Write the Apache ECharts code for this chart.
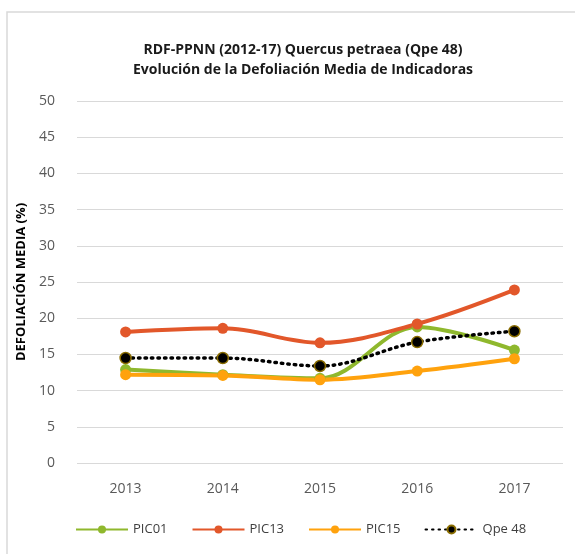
<!DOCTYPE html>
<html>
<head>
<meta charset="utf-8">
<script src="https://cdn.jsdelivr.net/npm/echarts@6/dist/echarts.min.js"></script>
<style>
html, body { margin: 0; padding: 0; background: #fff; }
#chart { width: 575px; height: 554px; }
</style>
</head>
<body>
<div id="chart"></div>
<script>
var years = ['2013', '2014', '2015', '2016', '2017'];
var pic01 = [12.9, 12.2, 11.7, 18.8, 15.6];
var pic13 = [18.1, 18.6, 16.6, 19.2, 23.9];
var pic15 = [12.2, 12.1, 11.5, 12.7, 14.4];
var qpe48 = [14.5, 14.5, 13.4, 16.7, 18.2];

var myChart = echarts.init(document.getElementById('chart'));

var fontAxis = "'Open Sans', sans-serif";

function lineSeries(name, data, color) {
	return {
		name: name,
		type: 'line',
		smooth: 0.35,
		data: data,
		symbol: 'circle',
		symbolSize: 11,
		lineStyle: { color: color, width: 4 },
		itemStyle: { color: color },
		z: 2
	};
}

var option = {
	animation: false,
	graphic: [{
		type: 'rect',
		shape: { x: 7, y: 12, width: 580, height: 560 },
		style: { fill: 'none', stroke: '#d9d9d9', lineWidth: 1.5 },
		silent: true
	}],
	title: {
		text: 'RDF-PPNN (2012-17) Quercus petraea (Qpe 48)\nEvolución de la Defoliación Media de Indicadoras',
		left: 298,
		top: 35,
		textAlign: 'center',
		textStyle: {
			fontFamily: fontAxis,
			fontSize: 14,
			fontWeight: 'bold',
			color: '#1a1a1a',
			lineHeight: 20
		}
	},
	legend: {
		bottom: 13,
		left: 70,
		itemWidth: 52,
		itemHeight: 10,
		itemGap: 24,
		textStyle: { fontFamily: fontAxis, fontSize: 13, color: '#404040' },
		data: ['PIC01', 'PIC13', 'PIC15', 'Qpe 48']
	},
	grid: {
		left: 77,
		right: 12,
		top: 101,
		bottom: 91
	},
	xAxis: {
		type: 'category',
		data: years,
		boundaryGap: true,
		axisLine: { show: false },
		axisTick: { show: false },
		axisLabel: {
			margin: 19,
			fontFamily: fontAxis,
			fontSize: 14,
			color: '#595959'
		}
	},
	yAxis: {
		type: 'value',
		min: 0,
		max: 50,
		interval: 5,
		name: 'DEFOLIACIÓN MEDIA (%)',
		nameLocation: 'middle',
		nameGap: 47,
		nameRotate: 90,
		nameTextStyle: {
			fontFamily: fontAxis,
			fontSize: 13,
			fontWeight: 'bold',
			color: '#000'
		},
		axisLine: { show: false },
		axisTick: { show: false },
		axisLabel: {
			margin: 22,
			fontFamily: fontAxis,
			fontSize: 14,
			color: '#595959'
		},
		splitLine: { lineStyle: { color: '#d9d9d9', width: 1 } }
	},
	series: [
		lineSeries('PIC01', pic01, '#8fb82d'),
		lineSeries('PIC13', pic13, '#e2572a'),
		lineSeries('PIC15', pic15, '#ffa20d'),
		{
			name: 'Qpe 48',
			type: 'line',
			smooth: 0.35,
			data: qpe48,
			symbol: 'circle',
			symbolSize: 11,
			lineStyle: { color: '#000', width: 3.5, type: [1.5, 5], cap: 'round' },
			itemStyle: { color: '#000', borderColor: '#8a6d00', borderWidth: 1.5 },
			z: 3
		}
	]
};

myChart.setOption(option);
</script>
</body>
</html>
